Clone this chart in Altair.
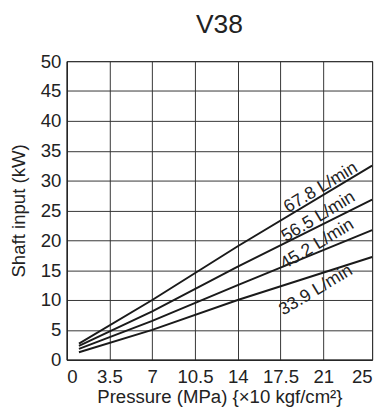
import altair as alt
import pandas as pd

# Data
pressure = [1, 7, 14, 25]
flow_labels = ["67.8 L/min", "56.5 L/min", "45.2 L/min", "33.9 L/min"]
power_678 = [2.7, 10.0, 19.0, 32.5]
power_565 = [2.3, 8.1, 15.6, 26.8]
power_452 = [1.8, 6.5, 12.5, 21.7]
power_339 = [1.25, 5.0, 10.0, 17.2]

label_x = [20.8, 20.6, 20.5, 20.4]
label_y = [28.8, 23.9, 19.3, 11.6]

x_ticks = [0, 3.5, 7, 10.5, 14, 17.5, 21, 25]
y_ticks = [0, 5, 10, 15, 20, 25, 30, 35, 40, 45, 50]

series = [power_678, power_565, power_452, power_339]
rows = []
for name, vals in zip(flow_labels, series):
    for p, v in zip(pressure, vals):
        rows.append({"flow": name, "pressure": p, "power": v})
df = pd.DataFrame(rows)
lab = pd.DataFrame({"flow": flow_labels, "x": label_x, "y": label_y})

FONT = "Liberation Sans"

xscale = alt.Scale(domain=[0, 25], nice=False, zero=False)
yscale = alt.Scale(domain=[0, 50], nice=False)

xaxis = alt.Axis(
    values=x_ticks, labelExpr="'' + datum.value", grid=True, ticks=False,
    title="Pressure (MPa) {×10 kgf/cm²}", labelFontSize=19, titleFontSize=19,
    labelPadding=8, titlePadding=2, labelFont=FONT, titleFont=FONT,
    labelColor="#222", titleColor="#222", titleFontWeight="normal",
    labelFlush=True, labelOverlap=False,
)
yaxis = alt.Axis(
    values=y_ticks, grid=True, ticks=False, title="Shaft input (kW)",
    labelFontSize=19, titleFontSize=19, labelPadding=6, titlePadding=12,
    labelFont=FONT, titleFont=FONT, labelColor="#222", titleColor="#222",
    titleFontWeight="normal", labelFlush=False, labelOverlap=False,
)

lines = alt.Chart(df).mark_line(color="#1a1a1a", strokeWidth=2).encode(
    x=alt.X("pressure:Q", scale=xscale, axis=xaxis),
    y=alt.Y("power:Q", scale=yscale, axis=yaxis),
    detail="flow:N",
)

texts = alt.Chart(lab).mark_text(
    angle=329, fontSize=18, font=FONT, color="#222", align="center", baseline="middle"
).encode(
    x=alt.X("x:Q", scale=xscale, axis=xaxis),
    y=alt.Y("y:Q", scale=yscale, axis=yaxis),
    text="flow:N",
)

chart = alt.layer(lines, texts).properties(
    width=312, height=305,
    title=alt.TitleParams("V38", fontSize=27, font=FONT, fontWeight="normal",
                          color="#222", anchor="middle", baseline="bottom",
                          offset=14, dy=27),
    autosize=alt.AutoSizeParams(type="none"),
    padding={"left": 60, "top": 50, "right": 5, "bottom": 44},
).configure_view(stroke="#1a1a1a", strokeWidth=1).configure_axis(
    gridColor="#333", gridOpacity=1, gridWidth=1, domainColor="#1a1a1a", domainWidth=1
)

chart.save("out.html", embed_options={"renderer": "svg", "actions": False})
